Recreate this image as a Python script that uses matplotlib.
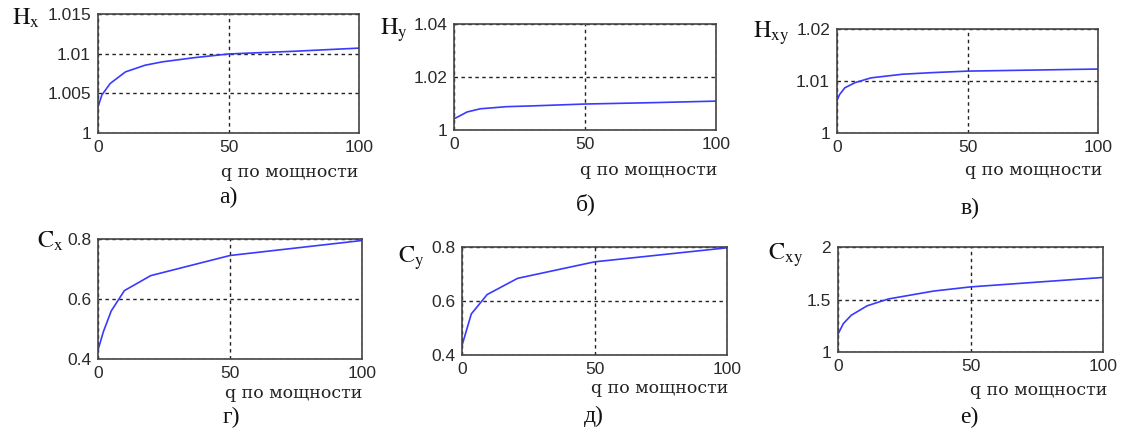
import matplotlib
matplotlib.use("Agg")
import matplotlib.pyplot as plt
from matplotlib.ticker import FixedLocator, FixedFormatter

plt.rcParams['mathtext.fontset'] = 'stix'

W, H = 1123, 438

# ---- data ----
q_hx = [0, 1.5, 4.7, 10.5, 18, 24.5, 37, 50, 60, 75, 100]
hx = [1.0033, 1.0048, 1.00625, 1.0077, 1.00854, 1.00896, 1.0095, 1.00996, 1.0101, 1.0103, 1.0107]

q_hy = [0, 5, 10, 20, 30, 50, 75, 100]
hy = [1.0042, 1.0068, 1.0080, 1.0088, 1.0091, 1.0098, 1.0103, 1.0109]

q_hxy = [0, 1, 3, 7, 13, 25, 36, 50, 75, 100]
hxy = [1.0063, 1.0074, 1.0087, 1.0097, 1.0106, 1.0113, 1.0116, 1.0119, 1.0121, 1.0123]

q_cx = [0, 2, 5, 10, 20, 50, 100]
cx = [0.43, 0.49, 0.56, 0.628, 0.678, 0.745, 0.795]

q_cy = [0, 3.5, 9.5, 21, 50, 100]
cy = [0.435, 0.552, 0.624, 0.684, 0.745, 0.797]

q_cxy = [0, 2, 5, 11, 19, 36, 50, 100]
cxy = [1.17, 1.27, 1.35, 1.44, 1.505, 1.58, 1.62, 1.71]

x_ticks = [0, 50, 100]
x_ticklabels = ['0', '50', '100']

yticks_hx = [1, 1.005, 1.01, 1.015]
ylabels_hx = ['1', '1.005', '1.01', '1.015']
yticks_hy = [1, 1.02, 1.04]
ylabels_hy = ['1', '1.02', '1.04']
yticks_hxy = [1, 1.01, 1.02]
ylabels_hxy = ['1', '1.01', '1.02']
yticks_c = [0.4, 0.6, 0.8]
ylabels_c = ['0.4', '0.6', '0.8']
yticks_cxy = [1, 1.5, 2]
ylabels_cxy = ['1', '1.5', '2']

xlabel_text = 'q по мощности'
panel_letters = ['а)', 'б)', 'в)', 'г)', 'д)', 'е)']
ylab_texts = [r'$\mathrm{H_x}$', r'$\mathrm{H_y}$', r'$\mathrm{H_{xy}}$',
              r'$\mathrm{C_x}$', r'$\mathrm{C_y}$', r'$\mathrm{C_{xy}}$']

panels = [
    (q_hx, hx, yticks_hx, ylabels_hx),
    (q_hy, hy, yticks_hy, ylabels_hy),
    (q_hxy, hxy, yticks_hxy, ylabels_hxy),
    (q_cx, cx, yticks_c, ylabels_c),
    (q_cy, cy, yticks_c, ylabels_c),
    (q_cxy, cxy, yticks_cxy, ylabels_cxy),
]

# ---- layout in pixels: (left, top, right, bottom) ----
boxes = [
    (98, 14, 359, 133),
    (454, 24, 716, 130),
    (837, 29, 1098, 133),
    (98, 239, 362, 359),
    (462, 247, 727, 355),
    (838, 247, 1103, 352),
]
ylab_pos = [(12, 25), (380, 35), (753, 38), (37, 248), (398, 263), (768, 260)]
xlab_pos = [(358, 177), (717, 175), (1102, 175), (362, 398), (728, 393), (1107, 395)]
letter_pos = [(228, 203), (586, 210), (970, 214), (231, 423), (594, 422), (969, 423)]

fig = plt.figure(figsize=(W / 100, H / 100), dpi=100)
fig.patch.set_facecolor('white')

for i, (xs, ys, yt, yl) in enumerate(panels):
    l, t, r, b = boxes[i]
    ax = fig.add_axes([l / W, 1 - b / H, (r - l) / W, (b - t) / H])
    ax.plot(xs, ys, color='#3a3aff', lw=1.2, zorder=3)
    ax.set_xlim(0, 100)
    ax.set_ylim(yt[0], yt[-1])
    ax.xaxis.set_major_locator(FixedLocator(x_ticks))
    ax.xaxis.set_major_formatter(FixedFormatter(x_ticklabels))
    ax.yaxis.set_major_locator(FixedLocator(yt))
    ax.yaxis.set_major_formatter(FixedFormatter(yl))
    ax.grid(True, color='#222222', lw=1.0, linestyle=(0, (2.5, 2.5)))
    ax.set_axisbelow(True)
    ax.tick_params(length=0, pad=5, labelsize=12.5, labelcolor='#2a2a2a')
    for lab in ax.get_xticklabels() + ax.get_yticklabels():
        lab.set_fontfamily('Liberation Sans')
    for sp in ax.spines.values():
        sp.set_color('#444444')
        sp.set_linewidth(1.2)
        sp.set_zorder(4)

    x0, y0 = ylab_pos[i]
    fig.text(x0 / W, 1 - y0 / H, ylab_texts[i], fontsize=17.5, ha='left', va='baseline',
             color='#111111')
    xx, yy = xlab_pos[i]
    fig.text(xx / W, 1 - yy / H, xlabel_text, fontsize=12.5, family='DejaVu Serif',
             ha='right', va='baseline', color='#222222')
    lx, ly = letter_pos[i]
    fig.text(lx / W, 1 - ly / H, panel_letters[i], fontsize=17, family='Liberation Serif',
             ha='center', va='baseline', color='#111111')

fig.savefig('out.png', dpi=100, facecolor='white')
